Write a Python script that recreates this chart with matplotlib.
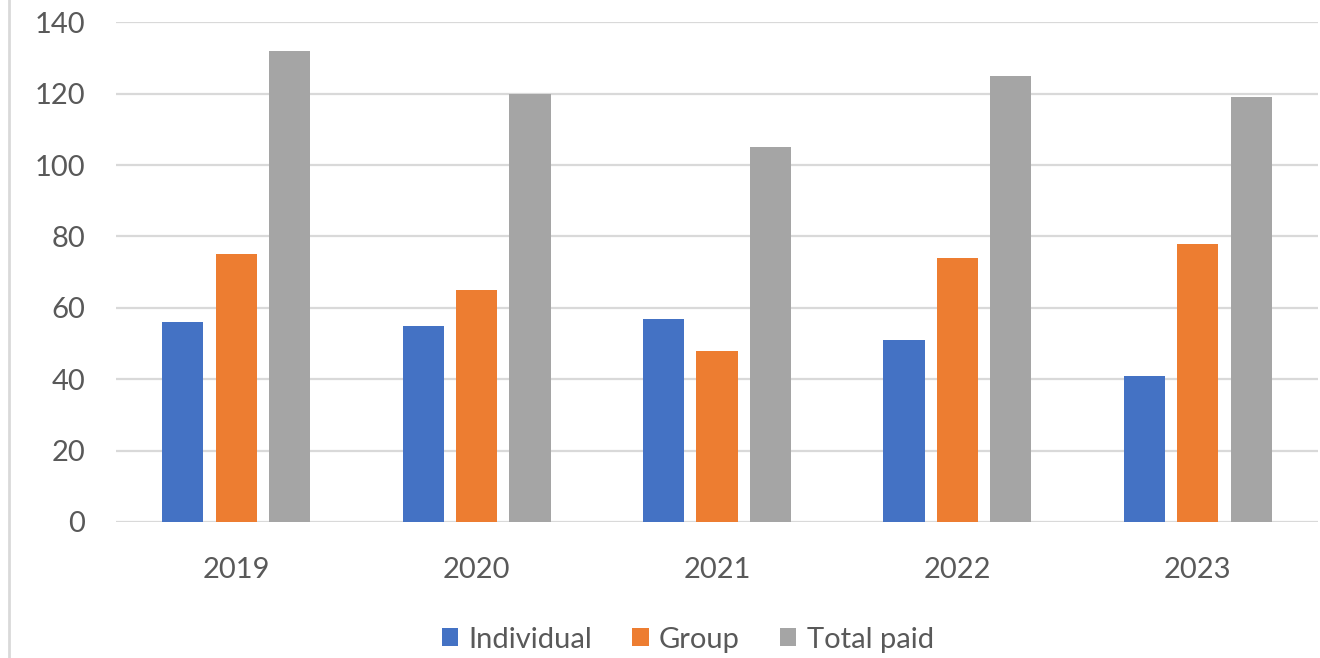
import matplotlib
matplotlib.use("Agg")
import matplotlib.pyplot as plt
from matplotlib.lines import Line2D
import numpy as np

years = ["2019", "2020", "2021", "2022", "2023"]
individual = [56, 55, 57, 51, 41]
group = [75, 65, 48, 74, 78]
total_paid = [132, 120, 105, 125, 119]

series = [
    ("Individual", individual, "#4472c4"),
    ("Group", group, "#ed7d31"),
    ("Total paid", total_paid, "#a5a5a5"),
]

plt.rcParams["font.family"] = ["Lato", "DejaVu Sans"]

fig = plt.figure(figsize=(13.2, 6.58), dpi=100)
ax = fig.add_axes([0.0879, 0.2067, 0.9106, 0.7593])

x = np.arange(len(years))
width = 0.171
step = 0.222
for i, (name, vals, color) in enumerate(series):
    ax.bar(x + (i - 1) * step, vals, width, color=color, label=name, zorder=3)

ax.set_xlim(-0.5, len(years) - 0.5)
ax.set_ylim(0, 140)
ax.set_yticks(range(0, 141, 20))
ax.set_xticks(x)
ax.set_xticklabels(years)
ax.yaxis.grid(True, color="#d9d9d9", linewidth=1.6, zorder=0)
for s in ax.spines.values():
    s.set_visible(False)
ax.tick_params(axis="both", length=0, labelsize=21, colors="#595959")
ax.tick_params(axis="y", pad=22)
ax.tick_params(axis="x", pad=25)

fig.legend(*ax.get_legend_handles_labels(), loc="center", bbox_to_anchor=(0.521, 0.028),
           ncol=3, frameon=False, fontsize=21, labelcolor="#595959",
           handlelength=0.55, handleheight=0.55, handletextpad=0.35, columnspacing=1.4)

fig.add_artist(Line2D([0.0065, 0.0065], [0, 1], transform=fig.transFigure,
                      color="#d9d9d9", linewidth=2))

fig.savefig("out.png", dpi=100)
